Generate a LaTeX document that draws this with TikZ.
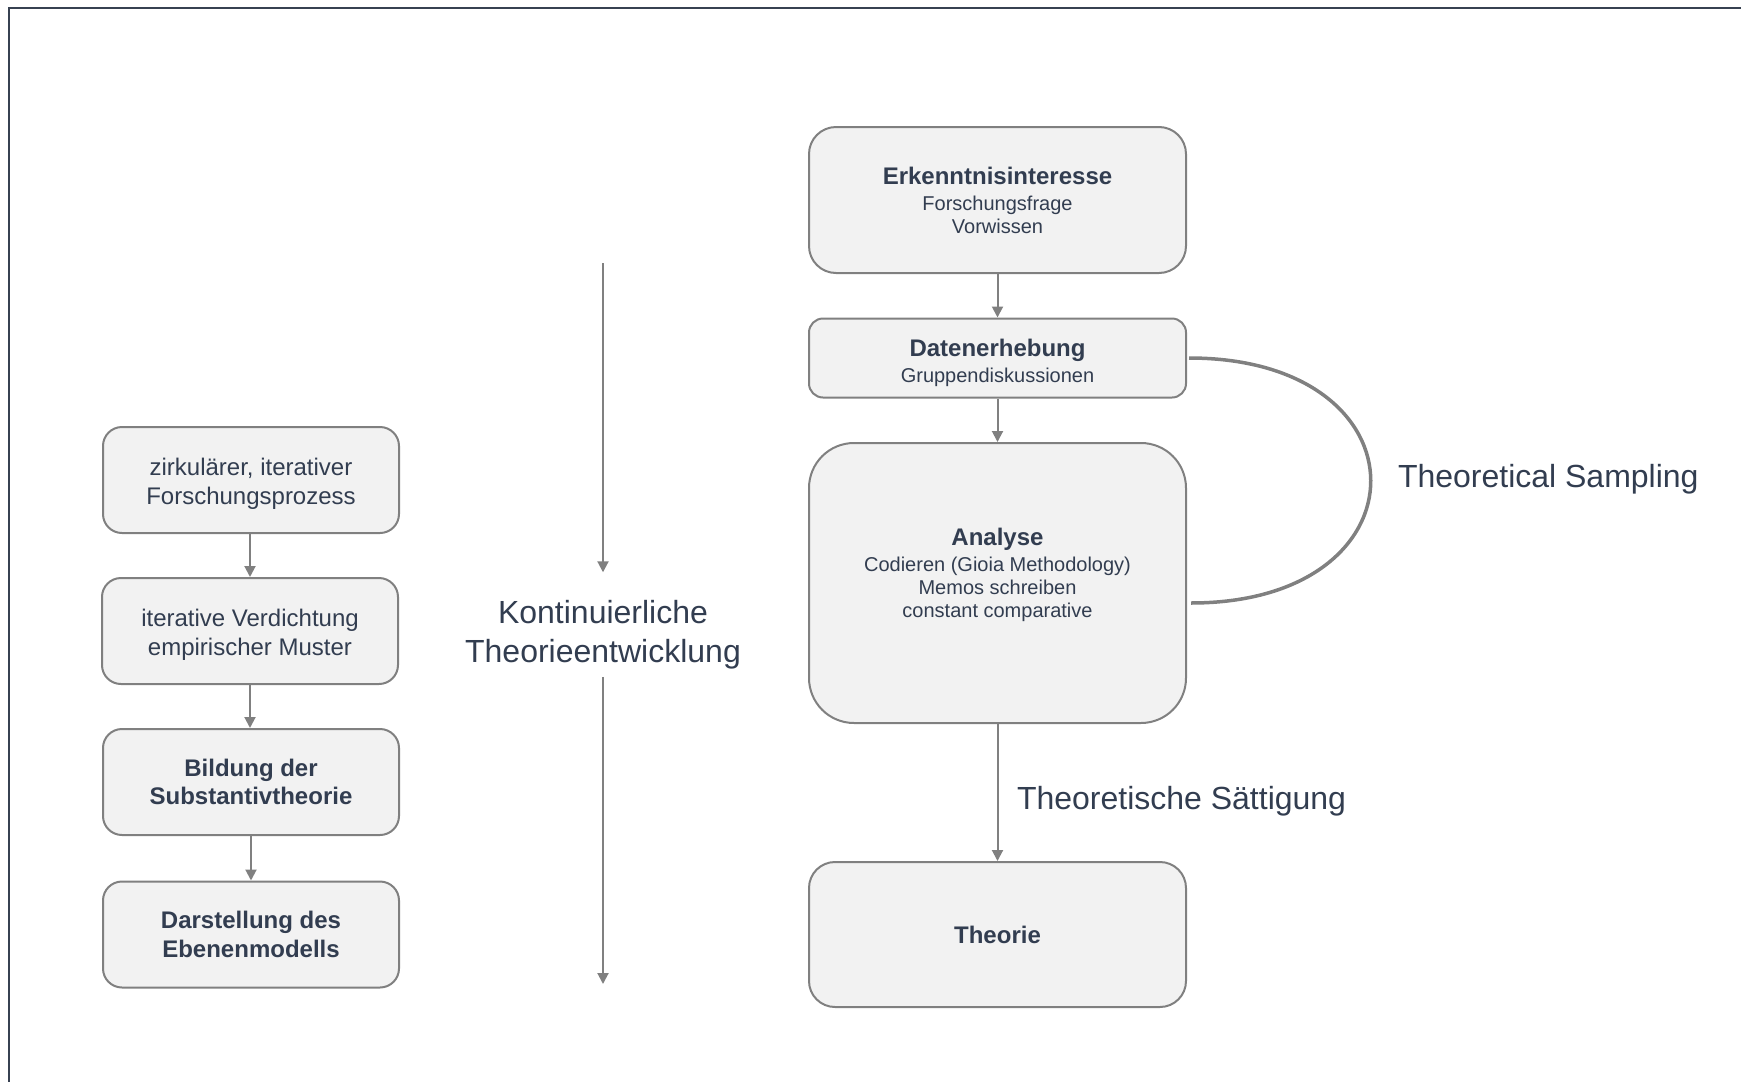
\documentclass[tikz,border=0pt]{standalone}
\usepackage{fontspec}
\setmainfont{Liberation Sans}
\usetikzlibrary{arrows.meta}

\definecolor{textslate}{RGB}{50,61,80}
\definecolor{boxgray}{RGB}{128,128,128}
\definecolor{boxfill}{RGB}{242,242,242}
\definecolor{framecol}{RGB}{55,65,81}

\begin{document}
\begin{tikzpicture}[x=1pt,y=-1pt]

\tikzstyle{stage}=[shape=rectangle, draw=boxgray, line width=2pt,
    fill=boxfill, align=center, text=textslate, inner sep=4pt]
\tikzstyle{leftstage}=[stage, minimum width=296pt, minimum height=106pt,
    rounded corners=19pt, font=\fontsize{24}{29}\selectfont]
\tikzstyle{rightstage}=[stage, minimum width=377pt,
    font=\fontsize{20}{23}\selectfont]
\tikzstyle{flow}=[->,>={Triangle[length=11pt,width=11pt]}, draw=boxgray, line width=2pt]
\tikzstyle{biglabel}=[text=textslate, font=\fontsize{32}{38.8}\selectfont,
    align=center, inner sep=0pt, outer sep=0pt]

  \useasboundingbox (0,0) rectangle (1741,1082);

  % frame
  \draw[framecol, line width=2.5pt] (9,1082) -- (9,8) -- (1741,8);

  % left column
  \node[leftstage, text height=49.5pt, text depth=0pt] (prozess) at (251,480) {zirkulärer, iterativer\\Forschungsprozess};
  \node[leftstage, text height=49.5pt, text depth=0pt] (verdichtung) at (250,631) {iterative Verdichtung\\empirischer Muster};
  \node[leftstage, font=\bfseries\fontsize{24}{28.5}\selectfont] (bildung) at (251,782) {Bildung der\\Substantivtheorie};
  \node[leftstage, font=\bfseries\fontsize{24}{28.5}\selectfont] (darstellung) at (251,934.5) {Darstellung des\\Ebenenmodells};

  \draw[flow] (prozess.south -| verdichtung) -- (verdichtung);
  \draw[flow] (verdichtung) -- (verdichtung |- bildung.north);
  \draw[flow] (bildung) -- (darstellung);

  % middle
  \node[biglabel] (entwicklung) at (603,634.6) {Kontinuierliche\\Theorieentwicklung};
  \coordinate (entwStart) at (603,263);
  \coordinate (entwEnd) at (603,984);

  \draw[flow, shorten >=28pt] (entwStart) -- (entwicklung);
  \draw[flow, shorten <=8pt] (entwicklung) -- (entwEnd);

  % right column
  \node[rightstage, minimum height=146pt, rounded corners=27pt] (erkenntnis) at (997.5,200)
    {{\bfseries\fontsize{24}{27}\selectfont Erkenntnisinteresse}\\[3pt]Forschungsfrage\\Vorwissen};
  \node[rightstage, minimum height=79pt, rounded corners=14pt, text height=48.5pt, text depth=0pt] (daten) at (997.5,358)
    {{\bfseries\fontsize{24}{27}\selectfont Datenerhebung}\\[3pt]Gruppendiskussionen};
  \node[rightstage, minimum height=280pt, rounded corners=45pt, text depth=20pt] (analyse) at (997.5,583)
    {{\bfseries\fontsize{24}{27}\selectfont Analyse}\\[3pt]Codieren (Gioia Methodology)\\Memos schreiben\\constant comparative};
  \node[rightstage, minimum height=145pt, rounded corners=26pt] (theorie) at (997.5,934.5)
    {{\bfseries\fontsize{24}{27}\selectfont Theorie}};

  \draw[flow] (erkenntnis) -- (daten);
  \draw[flow] (daten) -- (analyse);
  \draw[flow] (analyse) -- (theorie);

  % theoretical sampling loop
  \draw[draw=boxgray, line width=3.5pt] ([xshift=2pt]daten.east) .. controls (1431,358) and (1431,603) .. ([xshift=4pt,yshift=-20pt]analyse.east);

  \node[biglabel, anchor=base west] (sampling) at (1398,487.5) {Theoretical Sampling};
  \node[biglabel, anchor=base west] (saettigung) at (1017,809.5) {Theoretische Sättigung};

\end{tikzpicture}
\end{document}
